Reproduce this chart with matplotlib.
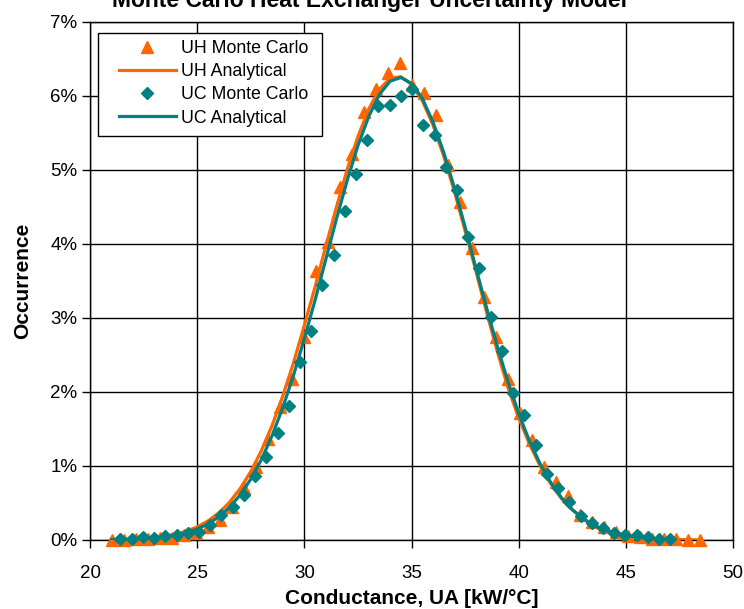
import matplotlib
matplotlib.use("Agg")
import matplotlib.pyplot as plt
from matplotlib.ticker import FuncFormatter, MultipleLocator
from matplotlib.patches import Rectangle

plt.rcParams['font.family'] = ['Liberation Sans', 'DejaVu Sans']

title = "Monte Carlo Heat Exchanger Uncertainty Model"
x_label = "Conductance, UA [kW/°C]"
y_label = "Occurrence"

# UH Monte Carlo histogram (conductance, % occurrence)
uh_mc_x = [21.04, 21.60, 22.16, 22.72, 23.28, 23.84, 24.40, 24.96, 25.52, 26.08,
           26.64, 27.20, 27.76, 28.32, 28.88, 29.44, 30.00, 30.56, 31.12, 31.68,
           32.24, 32.80, 33.36, 33.92, 34.48, 35.04, 35.60, 36.16, 36.72, 37.28,
           37.84, 38.40, 38.96, 39.52, 40.08, 40.64, 41.20, 41.76, 42.32, 42.88,
           43.44, 44.00, 44.56, 45.12, 45.68, 46.24, 46.80, 47.36, 47.92, 48.48]
uh_mc_y = [0.00, 0.00, 0.02, 0.02, 0.03, 0.03, 0.07, 0.09, 0.17, 0.27,
           0.45, 0.70, 0.99, 1.37, 1.80, 2.18, 2.75, 3.63, 4.03, 4.77,
           5.22, 5.79, 6.10, 6.31, 6.44, 6.15, 6.04, 5.74, 5.07, 4.57,
           3.94, 3.29, 2.75, 2.18, 1.71, 1.35, 0.99, 0.79, 0.60, 0.34,
           0.25, 0.18, 0.11, 0.05, 0.04, 0.02, 0.01, 0.01, 0.00, 0.00]

# UH analytical curve
uh_an_x = [21, 22, 23, 24, 24.5, 25, 25.5, 26, 26.5, 27, 27.5, 28, 28.5, 29, 29.5,
           30, 30.5, 31, 31.5, 32, 32.5, 33, 33.5, 34, 34.5, 35, 35.5, 36, 36.5,
           37, 37.5, 38, 38.5, 39, 39.5, 40, 40.5, 41, 41.5, 42, 42.5, 43, 43.5,
           44, 45, 46, 47, 48, 48.5]
uh_an_y = [0.004, 0.012, 0.033, 0.079, 0.12, 0.177, 0.256, 0.364, 0.506, 0.692,
           0.924, 1.209, 1.551, 1.95, 2.40, 2.90, 3.42, 3.97, 4.50, 5.01,
           5.45, 5.82, 6.09, 6.24, 6.26, 6.16, 5.94, 5.61, 5.19, 4.71,
           4.18, 3.64, 3.08, 2.55, 2.06, 1.65, 1.30, 1.00, 0.76, 0.56,
           0.41, 0.29, 0.20, 0.137, 0.06, 0.025, 0.009, 0.003, 0.002]

# UC Monte Carlo histogram
uc_mc_x = [21.42, 21.94, 22.47, 22.99, 23.51, 24.04, 24.56, 25.08, 25.61, 26.13,
           26.66, 27.18, 27.70, 28.23, 28.75, 29.27, 29.80, 30.32, 30.84, 31.37,
           31.89, 32.41, 32.94, 33.46, 33.98, 34.51, 35.03, 35.55, 36.08, 36.60,
           37.12, 37.65, 38.17, 38.70, 39.22, 39.74, 40.27, 40.79, 41.31, 41.84,
           42.36, 42.89, 43.41, 43.93, 44.46, 44.98, 45.50, 46.03, 46.55, 47.07]
uc_mc_y = [0.02, 0.01, 0.04, 0.03, 0.05, 0.07, 0.09, 0.11, 0.20, 0.34,
           0.45, 0.61, 0.87, 1.12, 1.44, 1.81, 2.41, 2.82, 3.45, 3.85,
           4.44, 4.94, 5.41, 5.86, 5.88, 6.00, 6.10, 5.61, 5.47, 5.04,
           4.73, 4.10, 3.67, 3.02, 2.55, 1.98, 1.69, 1.28, 0.89, 0.70,
           0.52, 0.32, 0.23, 0.16, 0.09, 0.07, 0.07, 0.045, 0.02, 0.02]

# UC analytical curve
uc_an_x = [21, 22, 23, 24, 24.5, 25, 25.5, 26, 26.5, 27, 27.5, 28, 28.5, 29, 29.5,
           30, 30.5, 31, 31.5, 32, 32.5, 33, 33.5, 34, 34.5, 35, 35.5, 36, 36.5,
           37, 37.5, 38, 38.5, 39, 39.5, 40, 40.5, 41, 41.5, 42, 42.5, 43, 43.5,
           44, 45, 46, 47]
uc_an_y = [0.003, 0.009, 0.025, 0.064, 0.098, 0.147, 0.216, 0.311, 0.439, 0.607,
           0.822, 1.088, 1.413, 1.795, 2.23, 2.72, 3.24, 3.79, 4.34, 4.86,
           5.33, 5.72, 6.02, 6.20, 6.25, 6.17, 5.97, 5.65, 5.24, 4.76,
           4.23, 3.68, 3.14, 2.62, 2.14, 1.71, 1.34, 1.03, 0.775, 0.57,
           0.41, 0.29, 0.20, 0.136, 0.058, 0.023, 0.008]

orange = "#FF6600"
teal = "#008080"

W, H = 744, 609
fig = plt.figure(figsize=(W / 100, H / 100), dpi=100)
ax = fig.add_axes([90 / W, 1 - 540 / H, 643 / W, 518 / H])

ax.plot(uh_mc_x, uh_mc_y, linestyle='none', marker='^', markersize=8.5,
        color=orange, label="UH Monte Carlo", clip_on=False, zorder=3)
ax.plot(uh_an_x, uh_an_y, color=orange, linewidth=2.3, label="UH Analytical",
        zorder=3)
ax.plot(uc_mc_x, uc_mc_y, linestyle='none', marker='D', markersize=6,
        color=teal, label="UC Monte Carlo", clip_on=False, zorder=4)
ax.plot(uc_an_x, uc_an_y, color=teal, linewidth=2.3, label="UC Analytical",
        zorder=4)

ax.set_xlim(20, 50)
ax.set_ylim(0, 7)
ax.xaxis.set_major_locator(MultipleLocator(5))
ax.yaxis.set_major_locator(MultipleLocator(1))
ax.yaxis.set_major_formatter(FuncFormatter(lambda v, p: f"{v:.0f}%"))
ax.grid(True, color='black', linewidth=1.0)
ax.set_axisbelow(True)
for s in ax.spines.values():
    s.set_color('black')
    s.set_linewidth(1.0)
ax.tick_params(axis='both', labelsize=13.5, color='black', length=6, width=1,
               direction='out')
ax.tick_params(axis='x', pad=12)
ax.tick_params(axis='y', pad=3)

ax.set_xlabel(x_label, fontsize=15, fontweight='bold', labelpad=5)
ax.set_ylabel(y_label, fontsize=15, fontweight='bold', labelpad=13)

fig.text(370 / W, 1 - 7 / H, title, ha='center', va='baseline',
         fontsize=16.5, fontweight='bold')

# legend box drawn as a rectangle, legend itself without frame
x0 = (98 - 90) / 643
x1 = (322 - 90) / 643
y1 = (540 - 33) / 518
y0 = (540 - 136) / 518
ax.add_patch(Rectangle((x0, y0), x1 - x0, y1 - y0, transform=ax.transAxes,
                       facecolor='white', edgecolor='black', linewidth=1.0,
                       zorder=5, clip_on=False))
leg = ax.legend(loc='upper left', bbox_to_anchor=((119 - 90) / 643, (540 - 40) / 518),
                borderaxespad=0, borderpad=0, fontsize=12.8, frameon=False,
                handlelength=3.2, handletextpad=0.3, labelspacing=0.35)
leg.set_zorder(6)

fig.savefig("out.png", dpi=100)
